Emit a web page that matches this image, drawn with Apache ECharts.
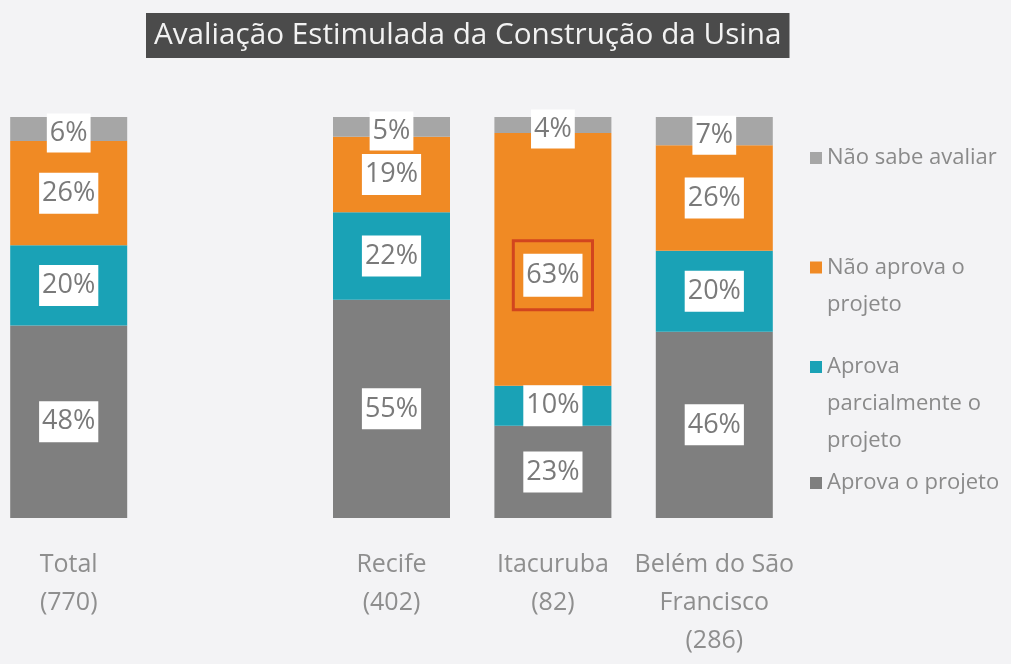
<!DOCTYPE html>
<html>
<head>
<meta charset="utf-8">
<script src="https://cdn.jsdelivr.net/npm/echarts@6/dist/echarts.min.js"></script>
<style>
html,body{margin:0;padding:0;background:#f3f3f5;}
#chart{width:1011px;height:664px;}
</style>
</head>
<body>
<div id="chart"></div>
<script>
// ---- data ----
const titleText = 'Avaliação Estimulada da Construção da Usina';
const categories = ['Total\n(770)', '', 'Recife\n(402)', 'Itacuruba\n(82)', 'Belém do São\nFrancisco\n(286)'];
const seriesNames = ['Aprova o projeto', 'Aprova parcialmente o projeto', 'Não aprova o projeto', 'Não sabe avaliar'];
const legendLabels = ['Aprova o projeto', '\n\nAprova\nparcialmente o\nprojeto', '\nNão aprova o\nprojeto', 'Não sabe avaliar'];
const aprova      = [48, null, 55, 23, 46];
const parcial     = [20, null, 22, 10, 20];
const naoAprova   = [26, null, 19, 63, 26];
const naoSabe     = [6,  null, 5,  4,  7];
// ---- styling ----
const colors = ['#7f7f7f', '#1aa2b6', '#f08a24', '#a6a6a6'];
const highlighted = {series: 2, category: 3}; // red annotation box
const legendTops = [459.5, 269.5, 207, 134.5];

const raw = [aprova, parcial, naoAprova, naoSabe];
const sums = categories.map((c, i) => raw.reduce((s, arr) => s + (arr[i] || 0), 0));

const chart = echarts.init(document.getElementById('chart'));
const labelFont = {fontFamily: 'Open Sans', fontSize: 27, lineHeight: 27, color: '#7a7a7a'};

const series = raw.map((arr, si) => ({
  name: seriesNames[si],
  type: 'bar',
  stack: 'all',
  barWidth: 117,
  itemStyle: {color: colors[si]},
  label: Object.assign({
    show: true,
    position: 'inside',
    backgroundColor: '#ffffff',
    padding: si === 3 ? [4, 3, 8, 3] : [7, 3],
    offset: si === 3 ? [0, 4] : [0, 0],
    formatter: p => p.data.raw + '%'
  }, labelFont),
  data: arr.map((v, ci) => {
    if (v === null) return null;
    const item = {value: v / sums[ci] * 100, raw: v};
    if (si === highlighted.series && ci === highlighted.category) {
      item.label = {
        backgroundColor: 'transparent',
        borderColor: '#d2451e',
        borderWidth: 1.5,
        padding: [21, 10],
        offset: [0, 16],
        formatter: p => '{w|' + p.data.raw + '%}',
        rich: {w: Object.assign({backgroundColor: '#ffffff', padding: [8, 3]}, labelFont)}
      };
    }
    return item;
  })
}));

const legends = seriesNames.map((n, si) => ({
  data: [n],
  orient: 'vertical',
  left: 805,
  top: legendTops[si],
  itemWidth: 12,
  itemHeight: 12,
  icon: 'rect',
  selectedMode: false,
  formatter: () => legendLabels[si],
  textStyle: {fontFamily: 'Open Sans', fontSize: 22, lineHeight: 37, color: '#8a8a8a'}
}));

chart.setOption({
  backgroundColor: '#f3f3f5',
  animation: false,
  title: {
    text: titleText,
    left: 146,
    top: 13,
    padding: [7, 8],
    backgroundColor: '#4b4b4b',
    textStyle: {fontFamily: 'Open Sans', fontSize: 29.7, lineHeight: 31, fontWeight: 'normal', color: '#f2f2f2'}
  },
  legend: legends,
  grid: {left: -12, width: 807, top: 117, bottom: 146, outerBoundsMode: 'none', containLabel: false},
  xAxis: {
    type: 'category',
    data: categories,
    axisLine: {show: false},
    axisTick: {show: false},
    axisLabel: {interval: 0, margin: 28, fontFamily: 'Open Sans', fontSize: 25, lineHeight: 38, color: '#8e8e8e'}
  },
  yAxis: {type: 'value', min: 0, max: 100, show: false, splitLine: {show: false}},
  series: series
});
</script>
</body>
</html>
